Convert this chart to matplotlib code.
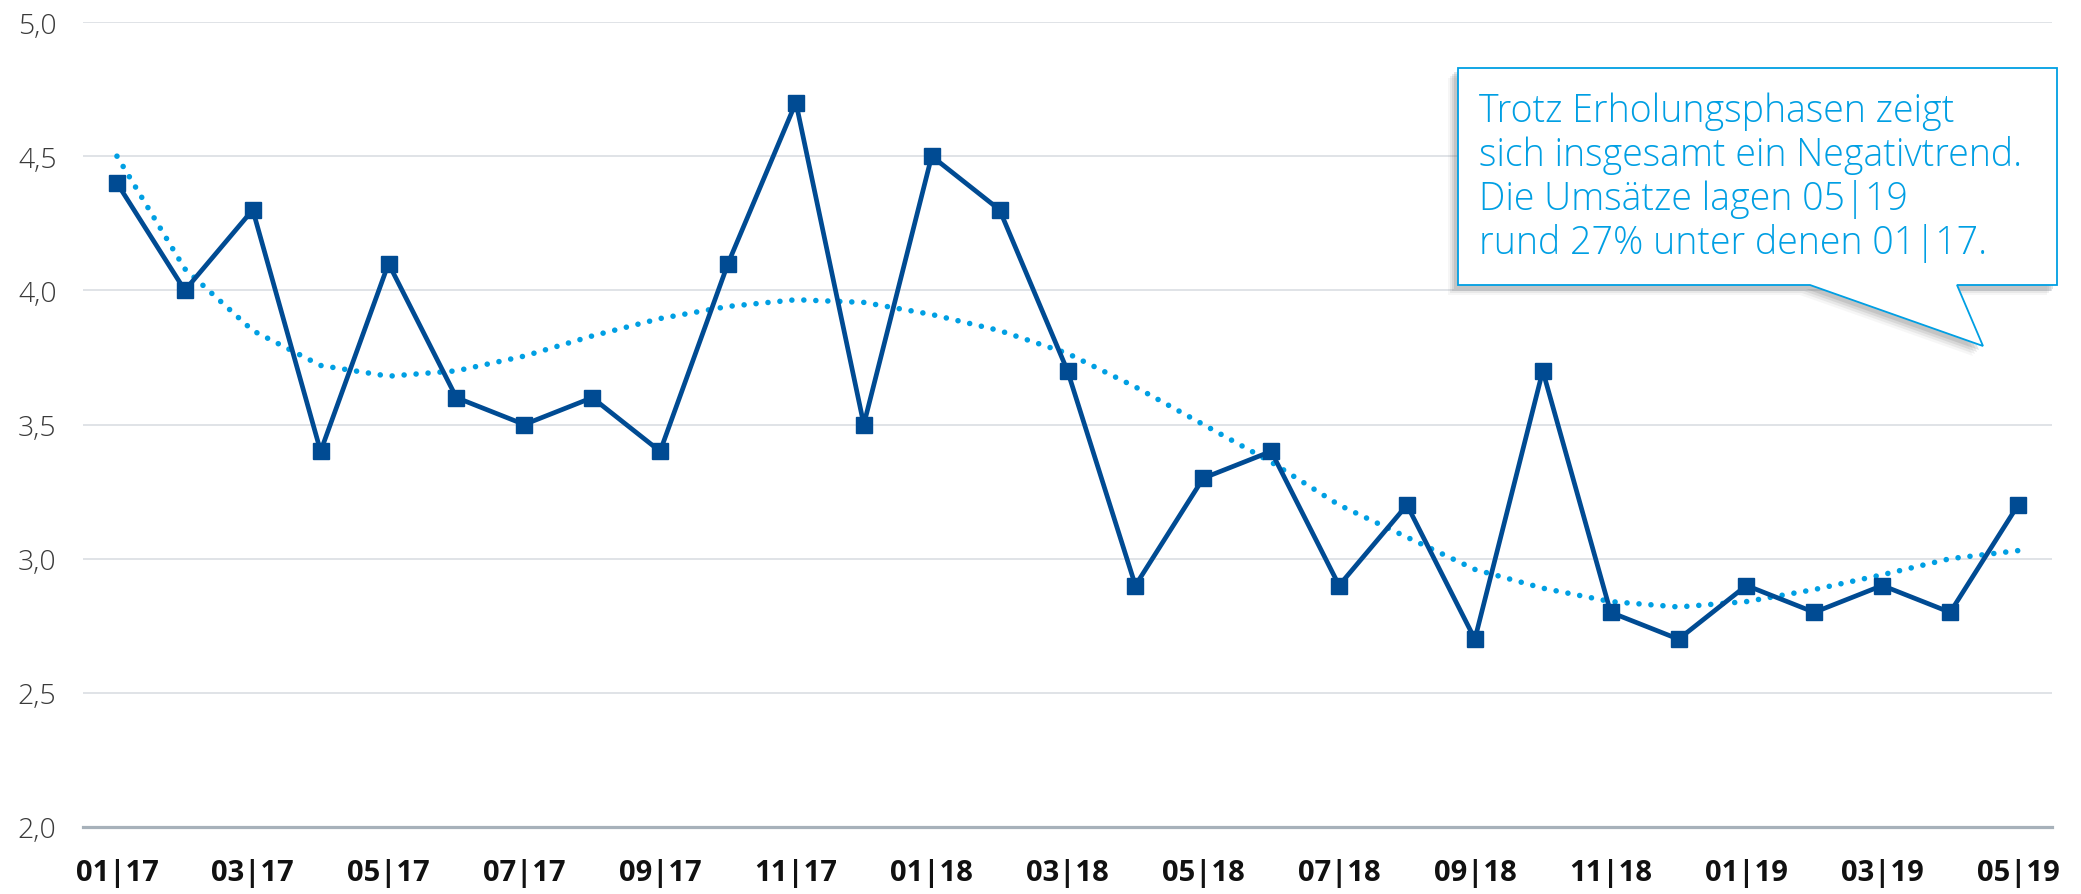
import matplotlib
matplotlib.use('Agg')
import matplotlib.pyplot as plt
from matplotlib.patches import Polygon

plt.rcParams['font.family'] = ['Open Sans', 'DejaVu Sans']

# Monate 01|17 bis 05|19
monate = ['01|17', '02|17', '03|17', '04|17', '05|17', '06|17', '07|17', '08|17',
          '09|17', '10|17', '11|17', '12|17', '01|18', '02|18', '03|18', '04|18',
          '05|18', '06|18', '07|18', '08|18', '09|18', '10|18', '11|18', '12|18',
          '01|19', '02|19', '03|19', '04|19', '05|19']
umsatz = [4.4, 4.0, 4.3, 3.4, 4.1, 3.6, 3.5, 3.6, 3.4, 4.1, 4.7, 3.5, 4.5, 4.3,
          3.7, 2.9, 3.3, 3.4, 2.9, 3.2, 2.7, 3.7, 2.8, 2.7, 2.9, 2.8, 2.9, 2.8, 3.2]
# Trendlinie
trend = [4.50, 4.08, 3.85, 3.72, 3.68, 3.70, 3.755, 3.83, 3.895, 3.94, 3.965, 3.955,
         3.91, 3.85, 3.765, 3.64, 3.50, 3.36, 3.20, 3.08, 2.96, 2.89, 2.84, 2.82,
         2.84, 2.885, 2.94, 3.00, 3.03]
yticks = [2.0, 2.5, 3.0, 3.5, 4.0, 4.5, 5.0]

hinweis = ['Trotz Erholungsphasen zeigt',
           'sich insgesamt ein Negativtrend.',
           'Die Umsätze lagen 05|19',
           'rund 27% unter denen 01|17.']

W, H = 2081, 895
fig = plt.figure(figsize=(W / 100, H / 100), dpi=100)
ax = fig.add_axes([83 / W, 1 - 828 / H, (2052 - 83) / W, (828 - 23) / H])

x = list(range(len(monate)))
ax.plot(x, trend, color='#009fe3', lw=4.0, linestyle=(0, (0.01, 2.15)),
        dash_capstyle='round', zorder=2)
ax.plot(x, umsatz, color='#004b93', lw=3.4, marker='s', ms=11.5, zorder=3)

ax.set_xlim(-0.5, len(monate) - 0.5)
ax.set_ylim(2, 5)
ax.set_yticks(yticks)
ax.set_yticklabels([('%.1f' % v).replace('.', ',') for v in yticks],
                   fontsize=20.5, color='#3a3a3a', fontweight='light')
ax.set_xticks(x[::2])
ax.set_xticklabels(monate[::2], fontsize=21, fontweight='bold', color='#111111')
ax.tick_params(axis='y', length=0, pad=19)
ax.tick_params(axis='x', length=0, pad=22)
ax.grid(axis='y', color='#d7dbe0', lw=1.1)
ax.set_axisbelow(True)
for s in ['top', 'right', 'left']:
    ax.spines[s].set_visible(False)
ax.spines['bottom'].set_color('#a7b1ba')
ax.spines['bottom'].set_linewidth(2.3)


def fpt(px, py):
    return (px / W, 1 - py / H)


box = [(1458, 69), (2057, 69), (2057, 286), (1957, 286), (1983, 347),
       (1810, 286), (1458, 286)]

# Schatten
for i, (dx, dy) in enumerate([(-10, 10), (-8, 8), (-6, 6), (-4, 4)]):
    sh = Polygon([fpt(px + dx, py + dy) for px, py in box], closed=True,
                 transform=fig.transFigure, facecolor='#707070', edgecolor='none',
                 alpha=0.06 + 0.04 * i, zorder=5)
    fig.add_artist(sh)

callout = Polygon([fpt(px, py) for px, py in box], closed=True,
                  transform=fig.transFigure, facecolor='white',
                  edgecolor='#009fe3', lw=1.3, zorder=6)
fig.add_artist(callout)

for i, zeile in enumerate(hinweis):
    fig.text(*fpt(1479, 122 + 44 * i), zeile, fontsize=27, color='#009fe3',
             fontweight='light', va='baseline', ha='left', zorder=7)

fig.savefig('out.png', dpi=100)
